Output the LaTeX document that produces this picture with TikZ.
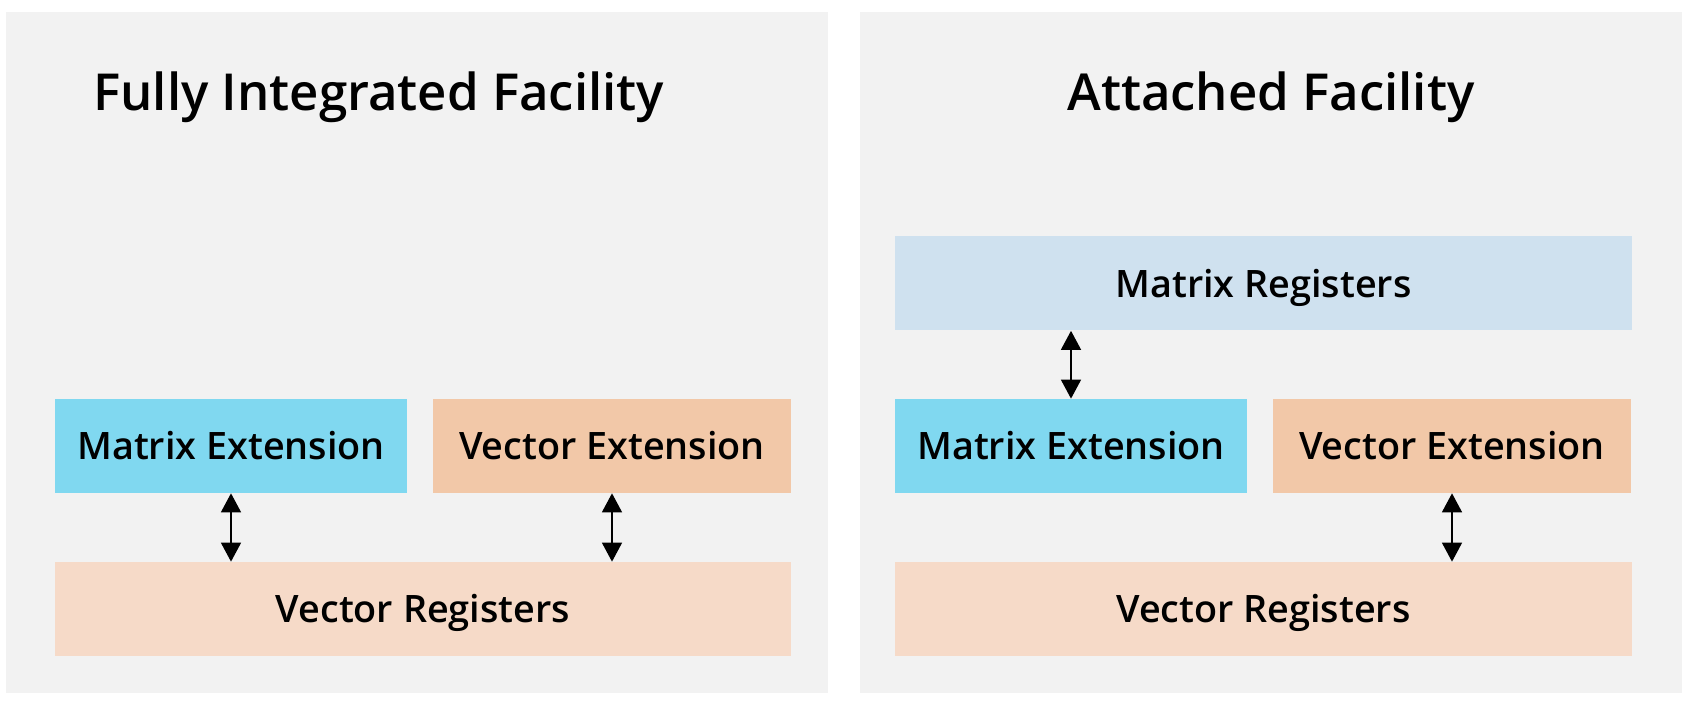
\documentclass[tikz,border=0pt]{standalone}
\usepackage{fontspec}
\setmainfont{Open Sans}
\IfFontExistsTF{Open Sans Semibold}
    {\newfontfamily\semifont{Open Sans Semibold}}
    {\IfFontExistsTF{Open Sans SemiBold}
        {\newfontfamily\semifont{Open Sans SemiBold}}
        {\newfontfamily\semifont{Open Sans Bold}[FakeStretch=0.95]}}
\usepackage{tikz}
\usetikzlibrary{positioning, arrows.meta}
\definecolor{pnGray}{RGB}{242, 242, 242}
\definecolor{mxCyan}{RGB}{128, 216, 240}
\definecolor{mxLight}{RGB}{207, 225, 239}
\definecolor{vcPeach}{RGB}{242, 200, 168}
\definecolor{vcLight}{RGB}{246, 218, 200}
\tikzset{
    base/.style={
        font=\semifont\fontsize{21.5}{24}\selectfont,
        align=center,
        inner sep=0pt
    },
    block/.style={
        base,
        rectangle,
        minimum height=1.88cm,
        text height=0.56cm,
        text depth=0cm
    },
    mext/.style={block, fill=mxCyan, minimum width=7.04cm},
    vext/.style={block, fill=vcPeach, minimum width=7.16cm},
    vreg/.style={block, fill=vcLight, minimum width=14.73cm},
    mreg/.style={block, fill=mxLight, minimum width=14.73cm},
    panel/.style={fill=pnGray},
    heading/.style={
        font=\semifont\fontsize{29}{32}\selectfont,
        inner sep=0pt
    },
    flow/.style={
        {Triangle[width=0.4cm,length=0.38cm]}-{Triangle[width=0.4cm,length=0.38cm]},
        line width=0.85pt,
        color=black
    }
}
\begin{document}
\begin{tikzpicture}
    \useasboundingbox (0,0) rectangle (33.88,14.04);

    % Fully Integrated Facility
    \fill[panel] (0.12,0.18) rectangle (16.56,13.8);
    \node[heading, anchor=base west] (titleL) at (1.86,11.82) {Fully Integrated Facility};
    \node[mext] (mextL) at (4.62,5.12) {Matrix Extension};
    \node[vext] (vextL) at (12.24,5.12) {Vector Extension};
    \node[vreg] (vregL) at (8.46,1.86) {Vector Registers};
    \draw[flow] (mextL.south) -- (mextL.south |- vregL.north);
    \draw[flow] (vextL.south) -- (vextL.south |- vregL.north);

    % Attached Facility
    \fill[panel] (17.2,0.18) rectangle (33.64,13.8);
    \node[heading, anchor=base] (titleR) at (25.42,11.82) {Attached Facility};
    \node[mreg] (mregR) at (25.27,8.37) {Matrix Registers};
    \node[mext] (mextR) at (21.42,5.12) {Matrix Extension};
    \node[vext] (vextR) at (29.04,5.12) {Vector Extension};
    \node[vreg] (vregR) at (25.27,1.86) {Vector Registers};
    \draw[flow] (mextR.north) -- (mextR.north |- mregR.south);
    \draw[flow] (vextR.south) -- (vextR.south |- vregR.north);

\end{tikzpicture}
\end{document}
